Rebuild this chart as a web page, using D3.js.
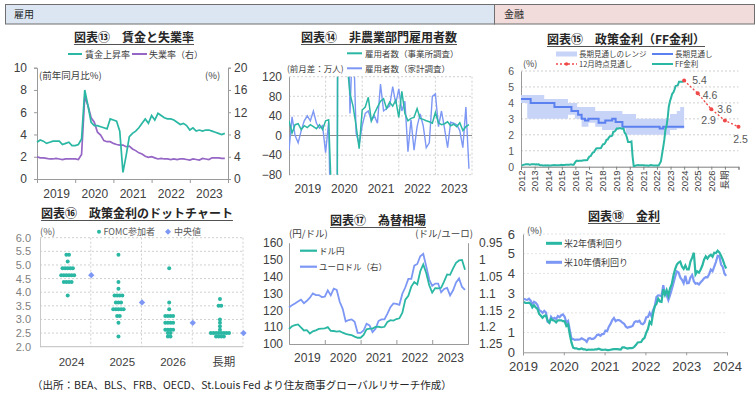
<!DOCTYPE html>
<html><head><meta charset="utf-8">
<script src="https://cdn.jsdelivr.net/npm/d3@7"></script>
<style>body{margin:0;background:#fff}svg{display:block}</style>
</head><body>
<script>
// ---------- DATA ----------
// Panel 13: wages & unemployment, monthly Jan 2019 - Dec 2023
const wageGrowth = [3.3,3.5,3.4,3.2,3.3,3.4,3.4,3.4,3.1,3.2,3.3,3.0,
  3.0,3.1,3.6,8.0,6.6,5.1,4.8,4.8,4.7,4.6,4.5,5.4,
  5.3,5.2,4.3,0.6,2.1,3.8,4.1,4.3,4.6,5.0,5.4,5.0,
  5.7,5.3,5.9,5.7,5.5,5.4,5.4,5.3,5.1,4.9,5.0,4.8,
  4.4,4.6,4.3,4.4,4.3,4.4,4.4,4.3,4.2,4.1,4.0,4.1];
const unemployment = [4.0,3.8,3.8,3.7,3.6,3.6,3.7,3.6,3.5,3.6,3.6,3.6,
  3.6,3.5,4.4,14.8,13.2,11.0,10.2,8.4,7.9,6.9,6.7,6.7,
  6.4,6.2,6.1,6.1,5.8,5.9,5.4,5.1,4.7,4.5,4.1,3.9,
  4.0,3.8,3.6,3.7,3.6,3.6,3.5,3.6,3.5,3.6,3.6,3.5,
  3.4,3.6,3.5,3.4,3.7,3.6,3.5,3.8,3.8,3.8,3.7,3.7];
// Panel 14: nonfarm employment change (10k persons), monthly Jan 2019 - Dec 2023
const payrollEstablishment = [30,5,22,24,12,20,16,22,18,14,22,12,
  30,32,-137,-2050,270,480,170,150,85,60,20,-27,
  52,58,78,30,45,58,70,75,55,68,60,72,
  37,90,45,30,35,37,55,35,33,30,28,25,
  47,26,22,24,28,20,23,18,26,10,18,22];
const payrollHousehold = [-30,38,0,-15,10,30,40,30,50,25,15,20,
  -35,28,-299,-2237,384,488,135,376,45,224,5,-18,
  20,45,50,30,40,25,105,50,55,60,100,65,
  95,50,70,-33,32,-30,18,44,20,-25,-15,80,
  85,18,50,14,-25,27,25,22,10,-25,58,-68];
// Panel 15: policy rate
const lrRangeT  = [2012.0,2012.46,2013.71,2015.46,2015.96,2016.13,2016.46,2016.96,2017.46,2017.96,2019.2,2019.46,2019.71,2020.46,2022.96,2023.2,2023.46,2023.71,2024.0];
const lrRangeLo = [4.0,3.0,3.0,3.25,3.0,3.0,2.5,2.75,2.5,2.3,2.5,2.4,2.0,2.0,2.3,2.3,2.4,2.4,2.4];
const lrRangeHi = [4.5,4.5,4.25,4.0,4.0,3.75,3.75,3.75,3.5,3.5,3.5,3.3,3.3,3.0,3.3,3.3,3.5,3.75,3.75];
const lrMedianT = [2012.0,2012.71,2014.46,2015.71,2016.2,2016.46,2016.71,2016.96,2017.71,2018.2,2018.71,2018.96,2019.46,2022.2,2022.46,2024.0];
const lrMedian  = [4.25,4.0,3.75,3.5,3.25,3.0,2.9,3.0,2.75,2.9,3.0,2.8,2.5,2.4,2.5,2.5];
const ffRate = [0.08,0.10,0.13,0.14,0.16,0.16,0.16,0.13,0.14,0.16,0.16,0.16,
  0.14,0.15,0.14,0.15,0.11,0.09,0.09,0.08,0.08,0.09,0.08,0.09,
  0.07,0.07,0.08,0.09,0.09,0.10,0.09,0.09,0.09,0.09,0.09,0.12,
  0.11,0.11,0.11,0.12,0.12,0.13,0.13,0.14,0.14,0.12,0.12,0.24,
  0.34,0.38,0.36,0.37,0.37,0.38,0.39,0.40,0.40,0.40,0.41,0.54,
  0.65,0.66,0.79,0.90,0.91,1.04,1.15,1.16,1.15,1.15,1.16,1.30,
  1.41,1.42,1.51,1.69,1.70,1.82,1.91,1.91,1.95,2.19,2.20,2.27,
  2.40,2.40,2.41,2.42,2.39,2.38,2.40,2.13,2.04,1.83,1.55,1.55,
  1.55,1.58,0.65,0.05,0.05,0.08,0.09,0.10,0.09,0.09,0.09,0.09,
  0.09,0.08,0.07,0.07,0.06,0.08,0.10,0.09,0.08,0.08,0.08,0.08,
  0.08,0.08,0.20,0.33,0.77,1.21,1.68,2.33,2.56,3.08,3.78,4.10,
  4.33,4.57,4.65,4.83,5.06,5.08,5.12,5.33,5.33,5.33,5.33,5.33];
const decProjT = [2024,2025,2026,2027,2028];
const decProj = [5.4,4.6,3.6,2.9,2.5];
const ffXLabels = ['2012','2013','2014','2015','2016','2017','2018','2019','2020','2021','2022','2023','2024','2025','2026','長期'];
// Panel 16: dot plot  [rate, count]
const dotGroups = ['2024','2025','2026','長期'];
const dots2024 = [[5.375,2],[5.125,1],[4.875,5],[4.625,6],[4.375,4],[3.875,1]];
const dots2025 = [[5.375,1],[4.375,1],[4.125,1],[3.875,4],[3.625,3],[3.375,5],[3.125,2],[2.875,1],[2.375,1]];
const dots2026 = [[4.875,1],[3.625,1],[3.375,1],[3.125,4],[2.875,4],[2.625,4],[2.5,2],[2.375,2]];
const dotsLR   = [[3.75,1],[3.5,2],[3.0,1],[2.875,1],[2.75,1],[2.625,1],[2.5,8],[2.375,4]];
const dotMedians = [4.625,3.625,2.875,2.5];
// Panel 17: FX monthly Jan 2019 - Dec 2023
const usdjpy = [108.9,110.5,111.2,111.6,109.8,108.0,108.2,106.2,107.5,108.1,108.9,109.1,
  109.3,110.0,107.8,107.7,107.3,107.6,106.7,106.0,105.6,105.2,104.4,103.7,
  103.7,105.4,108.7,109.1,109.1,110.1,110.2,109.9,110.2,113.1,114.1,113.9,
  114.8,115.2,118.5,126.3,128.6,134.0,136.7,135.3,143.1,147.1,142.1,134.8,
  130.4,133.1,133.0,133.3,137.1,141.2,141.0,144.8,148.1,149.5,149.8,144.0];
const eurusd = [1.142,1.135,1.130,1.124,1.119,1.129,1.122,1.113,1.100,1.105,1.105,1.111,
  1.110,1.091,1.106,1.086,1.090,1.125,1.146,1.183,1.179,1.177,1.184,1.217,
  1.217,1.210,1.190,1.195,1.215,1.205,1.182,1.177,1.177,1.160,1.141,1.130,
  1.131,1.134,1.101,1.082,1.057,1.057,1.018,1.013,0.990,0.983,1.020,1.059,
  1.078,1.071,1.071,1.097,1.087,1.084,1.106,1.091,1.068,1.056,1.081,1.090];
// Panel 18: yields, semi-monthly 2019 - 2023
const ust2y = [2.55,2.50,2.50,2.52,2.45,2.27,2.38,2.27,2.20,1.95,1.85,1.75,1.85,1.87,1.60,1.50,1.70,1.62,1.60,1.52,1.62,1.62,1.62,1.58,
  1.57,1.33,1.42,0.91,0.50,0.23,0.20,0.20,0.16,0.16,0.19,0.15,0.15,0.11,0.14,0.13,0.14,0.13,0.15,0.15,0.18,0.15,0.12,0.13,
  0.14,0.11,0.11,0.13,0.15,0.16,0.16,0.16,0.15,0.14,0.25,0.25,0.22,0.19,0.21,0.21,0.22,0.28,0.38,0.50,0.51,0.52,0.66,0.73,
  1.00,1.18,1.55,1.44,1.95,2.34,2.45,2.72,2.58,2.56,3.20,2.92,3.15,2.88,3.25,3.45,3.90,4.22,4.45,4.55,4.60,4.35,4.23,4.41,
  4.20,4.20,4.60,4.80,5.05,3.95,4.10,4.04,4.20,4.40,4.70,4.87,4.75,4.88,4.95,4.85,5.05,5.03,5.15,5.07,4.90,4.70,4.45,4.25];
const ust10y = [2.72,2.68,2.66,2.72,2.62,2.41,2.56,2.51,2.40,2.14,2.09,2.00,2.10,2.02,1.55,1.50,1.80,1.68,1.75,1.69,1.84,1.78,1.88,1.92,
  1.80,1.51,1.59,1.13,0.70,0.67,0.63,0.64,0.64,0.65,0.71,0.66,0.62,0.53,0.70,0.72,0.67,0.69,0.75,0.88,0.90,0.84,0.92,0.93,
  1.10,1.07,1.30,1.44,1.63,1.74,1.58,1.63,1.63,1.58,1.50,1.45,1.30,1.24,1.28,1.30,1.34,1.52,1.58,1.55,1.60,1.45,1.42,1.52,
  1.78,1.79,2.00,1.83,2.14,2.32,2.80,2.89,2.88,2.84,3.40,2.98,2.90,2.65,2.90,3.19,3.50,3.83,4.10,4.05,3.80,3.68,3.50,3.88,
  3.50,3.51,3.80,3.92,3.60,3.48,3.50,3.44,3.55,3.64,3.75,3.81,3.80,3.96,4.20,4.11,4.35,4.59,4.90,4.88,4.45,4.33,4.00,3.88];
const yearLabels = ['2019','2020','2021','2022','2023'];

// ---------- STYLE ----------
const FONT = "'Liberation Sans','Noto Sans CJK JP',sans-serif";
const JP = "'Noto Sans CJK JP',sans-serif";
const TEAL='#2ab7a3', PURPLE='#9566c5', BLUE='#7d97f4', BAND='#c8d4f7', MED='#5b80f0', RED='#f04848';
const GRID='#d0d0d0', AX='#9a9a9a', TXT='#404040';
const fmtInt = d3.format('d');

const svg = d3.select('body').append('svg').attr('width',756).attr('height',394)
  .attr('font-family',FONT);
svg.append('rect').attr('width',756).attr('height',394).attr('fill','#fff');

// header
svg.append('rect').attr('x',5.5).attr('y',4.5).attr('width',489).attr('height',19.5).attr('fill','#dce6f2').attr('stroke','#6f6f6f');
svg.append('rect').attr('x',494.5).attr('y',4.5).attr('width',260).attr('height',19.5).attr('fill','#f2dcdb').attr('stroke','#6f6f6f');
svg.append('text').attr('x',14).attr('y',18).attr('font-size',10).attr('font-family',JP).attr('fill','#262626').text('雇用');
svg.append('text').attr('x',504).attr('y',18).attr('font-size',10).attr('font-family',JP).attr('fill','#262626').text('金融');

function title(x,y,txt){
  const t = svg.append('text').attr('x',x).attr('y',y).attr('text-anchor','middle')
    .attr('font-family',JP).attr('font-weight','bold').attr('font-size',12).attr('fill','#262626').text(txt);
  const w = t.node().getComputedTextLength();
  svg.append('line').attr('x1',x-w/2).attr('x2',x+w/2).attr('y1',y+2.5).attr('y2',y+2.5)
    .attr('stroke','#262626').attr('stroke-width',0.8);
}
function txt(x,y,s,size,anchor,color){
  return svg.append('text').attr('x',x).attr('y',y).attr('font-size',size||9)
    .attr('text-anchor',anchor||'start').attr('fill',color||TXT).attr('font-family',JP).text(s);
}
function legLine(x1,x2,y,color,w,dash){
  const l = svg.append('line').attr('x1',x1).attr('x2',x2).attr('y1',y).attr('y2',y)
    .attr('stroke',color).attr('stroke-width',w||2);
  if(dash) l.attr('stroke-dasharray',dash);
  return l;
}
function styleAxis(g,opts){
  g.select('.domain').attr('stroke',opts.domain===false?'none':(opts.color||AX));
  g.selectAll('.tick line').attr('stroke',opts.color||AX);
  g.selectAll('.tick text').attr('fill',opts.text||TXT).attr('font-size',opts.size||12).attr('font-family',FONT);
  return g;
}
const mt = i => 2019 + i/12;

// ---------- PANEL 13 ----------
{
  const x = d3.scaleLinear().domain([2019,2024]).range([37,228]);
  const yl = d3.scaleLinear().domain([0,10]).range([179,67.7]);
  const yr = d3.scaleLinear().domain([0,20]).range([179,67.7]);
  title(134,42,'図表⑬　賃金と失業率');
  legLine(68,82,54,TEAL,2); txt(85,57.5,'賃金上昇率',9);
  legLine(132,147,54,PURPLE,2); txt(149,57.5,'失業率（右）',9);
  styleAxis(svg.append('g').attr('transform','translate(37,0)')
    .call(d3.axisLeft(yl).tickValues([0,2,4,6,8,10]).tickFormat(fmtInt).tickSize(3).tickPadding(7)),{});
  styleAxis(svg.append('g').attr('transform','translate(228,0)')
    .call(d3.axisRight(yr).tickValues([0,4,8,12,16,20]).tickFormat(fmtInt).tickSize(3).tickPadding(3)),{});
  styleAxis(svg.append('g').attr('transform','translate(0,179)')
    .call(d3.axisBottom(x).tickValues([2019,2020,2021,2022,2023,2024]).tickFormat('').tickSize(4)),{});
  styleAxis(svg.append('g').attr('transform','translate(0,179)')
    .call(d3.axisBottom(x).tickValues(yearLabels.map(d=>+d+0.5)).tickFormat((d,i)=>yearLabels[i]).tickSize(0).tickPadding(10)),{domain:false,size:12});
  txt(39,79,'(前年同月比%)',9.5);
  txt(205,79,'(%)',9.5);
  svg.append('path').datum(unemployment).attr('fill','none').attr('stroke',PURPLE).attr('stroke-width',1.7)
    .attr('d',d3.line().x((d,i)=>x(mt(i))).y(d=>yr(d)));
  svg.append('path').datum(wageGrowth).attr('fill','none').attr('stroke',TEAL).attr('stroke-width',1.7)
    .attr('d',d3.line().x((d,i)=>x(mt(i))).y(d=>yl(d)));
}

// ---------- PANEL 14 ----------
{
  const x = d3.scaleLinear().domain([2019,2024]).range([289,472]);
  const y = d3.scaleLinear().domain([-80,120]).range([174.7,76.7]);
  title(379,42,'図表⑭　非農業部門雇用者数');
  legLine(347,362,53.3,TEAL,2); txt(365,56.8,'雇用者数（事業所調査）',8.5);
  legLine(347,362,68.3,BLUE,2); txt(365,71.8,'雇用者数（家計調査）',8.5);
  txt(287,71.8,'(前月差：万人)',8.5);
  const ticks=[-80,-40,0,40,80,120];
  svg.append('g').selectAll('line').data(ticks.filter(d=>d!==0)).join('line')
    .attr('x1',289).attr('x2',472).attr('y1',d=>y(d)).attr('y2',d=>y(d))
    .attr('stroke',GRID).attr('stroke-dasharray','2,2');
  svg.append('g').selectAll('line').data([2020,2021,2022,2023,2024]).join('line')
    .attr('x1',d=>x(d)).attr('x2',d=>x(d)).attr('y1',76.7).attr('y2',174.7)
    .attr('stroke',GRID).attr('stroke-dasharray','2,2');
  svg.append('line').attr('x1',289).attr('x2',472).attr('y1',y(0)).attr('y2',y(0)).attr('stroke','#8c8c8c');
  styleAxis(svg.append('g').attr('transform','translate(289,0)')
    .call(d3.axisLeft(y).tickValues(ticks).tickFormat(fmtInt).tickSize(0).tickPadding(7)),{size:12});
  styleAxis(svg.append('g').attr('transform','translate(0,174.7)')
    .call(d3.axisBottom(x).tickValues(yearLabels.map(d=>+d+0.5)).tickFormat((d,i)=>yearLabels[i]).tickSize(0).tickPadding(10)),{domain:false,size:12});
  svg.append('clipPath').attr('id','c14').append('rect').attr('x',289).attr('y',76.7).attr('width',183).attr('height',98);
  const pg = svg.append('g').attr('clip-path','url(#c14)');
  pg.append('path').datum(payrollHousehold).attr('fill','none').attr('stroke',BLUE).attr('stroke-width',1.4)
    .attr('d',d3.line().x((d,i)=>x(mt(i))).y(d=>y(d)));
  pg.append('path').datum(payrollEstablishment).attr('fill','none').attr('stroke',TEAL).attr('stroke-width',1.5)
    .attr('d',d3.line().x((d,i)=>x(mt(i))).y(d=>y(d)));
}

// ---------- PANEL 15 ----------
{
  const x = d3.scaleLinear().domain([2012,2028]).range([521,738.5]);
  const y = d3.scaleLinear().domain([0,6]).range([166.7,71]);
  title(626,44,'図表⑮　政策金利（FF金利）');
  svg.append('rect').attr('x',556).attr('y',51.5).attr('width',21).attr('height',5).attr('fill',BAND);
  txt(579,57,'長期見通しのレンジ',7.5);
  legLine(652,673,54,MED,2); txt(675,57,'長期見通し',7.5);
  legLine(556,577,64,RED,1.3,'2,2');
  svg.append('circle').attr('cx',566.5).attr('cy',64).attr('r',1.8).attr('fill',RED);
  txt(579,67,'12月時点見通し',7.5);
  legLine(652,673,64,TEAL,2); txt(675,67,'FF金利',7.5);
  txt(523,66.5,'(%)',9);
  svg.append('g').selectAll('line').data([1,2,3,4,5,6]).join('line')
    .attr('x1',521).attr('x2',738.5).attr('y1',d=>y(d)).attr('y2',d=>y(d))
    .attr('stroke',GRID).attr('stroke-dasharray','2,2');
  styleAxis(svg.append('g').attr('transform','translate(521,0)')
    .call(d3.axisLeft(y).tickValues([0,1,2,3,4,5,6]).tickFormat(fmtInt).tickSize(0).tickPadding(7)),{size:10.5,text:'#595959'});
  const xa = svg.append('g').attr('transform','translate(0,166.7)')
    .call(d3.axisBottom(x).tickValues(d3.range(2012,2029)).tickFormat('').tickSize(3));
  styleAxis(xa,{color:'#7f7f7f'});
  svg.append('g').selectAll('text').data(ffXLabels).join('text')
    .attr('transform',(d,i)=>`translate(${x(2012+i)+3.5},170.5) rotate(-90)`)
    .attr('text-anchor','end').attr('font-size',9.5).attr('fill','#404040').text(d=>d);
  const bandData = lrRangeT.map((t,i)=>({t,lo:lrRangeLo[i],hi:lrRangeHi[i]}));
  svg.append('path').datum(bandData).attr('fill',BAND)
    .attr('d',d3.area().curve(d3.curveStepAfter).x(d=>x(d.t)).y0(d=>y(d.lo)).y1(d=>y(d.hi)));
  svg.append('path').datum(lrMedianT.map((t,i)=>[t,lrMedian[i]])).attr('fill','none').attr('stroke',MED).attr('stroke-width',2)
    .attr('d',d3.line().curve(d3.curveStepAfter).x(d=>x(d[0])).y(d=>y(d[1])));
  svg.append('path').datum(ffRate).attr('fill','none').attr('stroke',TEAL).attr('stroke-width',2)
    .attr('d',d3.line().x((d,i)=>x(2012+(i+0.5)/12)).y(d=>y(d)));
  svg.append('path').datum(decProj).attr('fill','none').attr('stroke',RED).attr('stroke-width',1.3).attr('stroke-dasharray','2,2')
    .attr('d',d3.line().x((d,i)=>x(decProjT[i])).y(d=>y(d)));
  svg.append('g').selectAll('circle').data(decProj).join('circle')
    .attr('cx',(d,i)=>x(decProjT[i])).attr('cy',d=>y(d)).attr('r',2).attr('fill',RED);
  const offs = [[8,3.5,'start'],[5,6,'start'],[6,4,'start'],[-9,4,'end'],[2,16,'middle']];
  svg.append('g').selectAll('text').data(decProj).join('text')
    .attr('x',(d,i)=>x(decProjT[i])+offs[i][0]).attr('y',(d,i)=>y(d)+offs[i][1])
    .attr('text-anchor',(d,i)=>offs[i][2]).attr('font-size',10.5).attr('fill','#595959')
    .text(d=>d.toFixed(1));
}

// ---------- PANEL 16 ----------
{
  const y = d3.scaleLinear().domain([2,6]).range([346.7,237.7]);
  const gx = d3.scaleBand().domain(dotGroups).range([40,243]).paddingInner(0).paddingOuter(0);
  title(137,218,'図表⑯　政策金利のドットチャート');
  txt(40,235,'(%)',9.5,'start','#595959');
  svg.append('circle').attr('cx',99).attr('cy',231.7).attr('r',2).attr('fill',TEAL);
  txt(103.5,235,'FOMC参加者',9,'start','#595959');
  svg.append('path').attr('d','M168,228.7L171,231.7L168,234.7L165,231.7Z').attr('fill',BLUE);
  txt(174,235,'中央値',9,'start','#595959');
  const yt = d3.range(2,6.01,0.5);
  svg.append('g').selectAll('line').data(yt.filter(d=>d>2)).join('line')
    .attr('x1',40).attr('x2',243).attr('y1',d=>y(d)).attr('y2',d=>y(d))
    .attr('stroke',GRID).attr('stroke-dasharray','2,2');
  svg.append('g').selectAll('line').data(dotGroups).join('line')
    .attr('x1',d=>gx(d)+gx.bandwidth()).attr('x2',d=>gx(d)+gx.bandwidth()).attr('y1',237.7).attr('y2',346.7)
    .attr('stroke',GRID).attr('stroke-dasharray','2,2');
  styleAxis(svg.append('g').attr('transform','translate(40,0)')
    .call(d3.axisLeft(y).tickValues(yt).tickFormat(d3.format('.1f')).tickSize(0).tickPadding(9)),{color:'#c8c8c8',size:11,text:'#7f7f7f'});
  svg.append('line').attr('x1',40).attr('x2',243).attr('y1',346.7).attr('y2',346.7).attr('stroke','#bfbfbf');
  svg.append('g').selectAll('text').data(dotGroups).join('text')
    .attr('x',d=>gx(d)+31.5).attr('y',366).attr('text-anchor','middle').attr('font-size',11.5).attr('fill',TXT).text(d=>d);
  const all = [dots2024,dots2025,dots2026,dotsLR];
  const pts = [];
  all.forEach((rows,gi)=>{
    const cx = gx(dotGroups[gi]) + 27.7;
    rows.forEach(([r,n])=>{ for(let k=0;k<n;k++) pts.push({x:cx+(k-(n-1)/2)*2.6, r}); });
  });
  svg.append('g').selectAll('circle').data(pts).join('circle')
    .attr('cx',d=>d.x).attr('cy',d=>y(d.r)).attr('r',2).attr('fill',TEAL);
  svg.append('g').selectAll('path').data(dotMedians).join('path')
    .attr('d',(d,i)=>{const cx=gx(dotGroups[i])+gx.bandwidth()+0.5, cy=y(d); return `M${cx},${cy-3.2}L${cx+3.2},${cy}L${cx},${cy+3.2}L${cx-3.2},${cy}Z`;})
    .attr('fill',BLUE);
}

// ---------- PANEL 17 ----------
{
  const x = d3.scaleLinear().domain([2019,2024]).range([289,468]);
  const yl = d3.scaleLinear().domain([100,160]).range([344,242.7]);
  const yr = d3.scaleLinear().domain([1.25,0.95]).range([344,242.7]);
  title(378,225,'図表⑰　為替相場');
  txt(289,236.5,'(円/ドル)',9.5);
  txt(473,236.5,'(ドル/ユーロ)',9.5,'end');
  styleAxis(svg.append('g').attr('transform','translate(289,0)')
    .call(d3.axisLeft(yl).tickValues(d3.range(100,161,10)).tickFormat(fmtInt).tickSize(0).tickPadding(6)),{size:12});
  styleAxis(svg.append('g').attr('transform','translate(468,0)')
    .call(d3.axisRight(yr).tickValues([0.95,1,1.05,1.1,1.15,1.2,1.25]).tickFormat(d=>String(+d.toFixed(2))).tickSize(0).tickPadding(11)),{size:12});
  styleAxis(svg.append('g').attr('transform','translate(0,344)')
    .call(d3.axisBottom(x).tickValues([2020,2021,2022,2023]).tickFormat('').tickSize(-4)),{});
  styleAxis(svg.append('g').attr('transform','translate(0,344)')
    .call(d3.axisBottom(x).tickValues(yearLabels.map(d=>+d+0.5)).tickFormat((d,i)=>yearLabels[i]).tickSize(0).tickPadding(9)),{domain:false,size:12});
  legLine(300,317,250.7,TEAL,2.2); txt(319,254,'ドル円',8.5);
  legLine(300,317,266.7,BLUE,2.2); txt(319,270,'ユーロドル（右）',8.5);
  svg.append('path').datum(eurusd).attr('fill','none').attr('stroke',BLUE).attr('stroke-width',1.8)
    .attr('d',d3.line().x((d,i)=>x(mt(i))).y(d=>yr(d)));
  svg.append('path').datum(usdjpy).attr('fill','none').attr('stroke',TEAL).attr('stroke-width',1.8)
    .attr('d',d3.line().x((d,i)=>x(mt(i))).y(d=>yl(d)));
}

// ---------- PANEL 18 ----------
{
  const x = d3.scaleLinear().domain([2019,2024]).range([523,727]);
  const y = d3.scaleLinear().domain([0,6]).range([352.3,234]);
  title(624,221,'図表⑱　金利');
  txt(527,234,'(%)',9.5);
  svg.append('g').selectAll('line').data([1,2,3,4,5,6]).join('line')
    .attr('x1',523).attr('x2',727).attr('y1',d=>y(d)).attr('y2',d=>y(d))
    .attr('stroke','#e3e3e3').attr('stroke-dasharray','2,2');
  styleAxis(svg.append('g').attr('transform','translate(523,0)')
    .call(d3.axisLeft(y).tickValues([0,1,2,3,4,5,6]).tickFormat(fmtInt).tickSize(0).tickPadding(8)),{size:13});
  styleAxis(svg.append('g').attr('transform','translate(0,352.3)')
    .call(d3.axisBottom(x).tickValues([2019,2020,2021,2022,2023,2024]).tickFormat(fmtInt).tickSize(3).tickPadding(6)),{size:13});
  legLine(546,562,243.3,TEAL,3); txt(564,246.8,'米2年債利回り',9);
  legLine(546,562,262.3,BLUE,3); txt(564,265.8,'米10年債利回り',9);
  const tt = i => 2019 + (i+0.5)/24;
  svg.append('path').datum(ust10y).attr('fill','none').attr('stroke',BLUE).attr('stroke-width',2.2)
    .attr('d',d3.line().x((d,i)=>x(tt(i))).y(d=>y(d)));
  svg.append('path').datum(ust2y).attr('fill','none').attr('stroke',TEAL).attr('stroke-width',2.2)
    .attr('d',d3.line().x((d,i)=>x(tt(i))).y(d=>y(d)));
}

// footer
txt(32,389,'（出所：BEA、BLS、FRB、OECD、St.Louis Fed より住友商事グローバルリサーチ作成）',10.5,'start','#262626');
</script></body></html>
